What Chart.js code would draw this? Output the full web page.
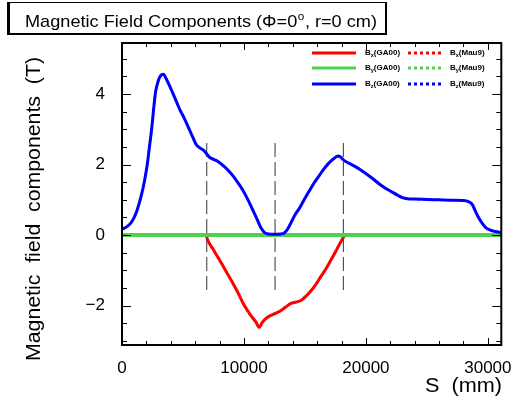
<!DOCTYPE html>
<html><head><meta charset="utf-8">
<script src="https://cdn.jsdelivr.net/npm/chart.js@4/dist/chart.umd.min.js"></script>
<style>html,body{margin:0;padding:0;background:#fff}#c{display:block}</style>
</head><body>
<canvas id="c" width="517" height="402"></canvas>
<script>
// ---- data ----
const sBz = [0,400,700,1000,1250,1600,1850,2050,2250,2450,2600,2750,2950,3150,3400,3600,3950,4350,4750,5100,5450,5800,6100,6400,6700,6950,7200,7500,7900,8300,8700,9100,9500,9900,10300,10700,11100,11400,11700,12000,12500,13000,13300,13600,13900,14200,14530,14900,15300,15700,16100,16500,16900,17300,17700,17900,18200,18600,19100,19600,20100,20600,21100,21600,22100,22600,23000,23400,24000,25000,26000,27000,28000,28400,28700,28950,29200,29500,29800,30200,30600,31100];
const bzGA00 = [0.16,0.24,0.33,0.50,0.72,1.15,1.55,1.95,2.50,3.07,3.60,4.05,4.35,4.52,4.56,4.45,4.20,3.88,3.55,3.32,3.05,2.78,2.56,2.47,2.40,2.30,2.20,2.15,2.08,1.97,1.84,1.68,1.49,1.28,1.02,0.73,0.43,0.20,0.07,0.03,0.02,0.03,0.06,0.18,0.38,0.58,0.75,0.98,1.22,1.45,1.65,1.85,2.02,2.15,2.24,2.22,2.12,2.04,1.95,1.84,1.72,1.59,1.45,1.33,1.23,1.13,1.06,1.03,1.02,1.01,1.00,0.99,0.98,0.95,0.88,0.70,0.52,0.35,0.22,0.14,0.10,0.07];
const sBx = [0,6900,7000,7500,8000,8500,9000,9500,10000,10500,11000,11250,11500,11900,12400,12900,13400,13850,14300,14700,15100,15500,15900,16300,16700,17100,17500,17900,18200,18350,31100];
const bxGA00 = [0,0,-0.12,-0.42,-0.71,-1.01,-1.31,-1.63,-1.98,-2.25,-2.48,-2.62,-2.48,-2.34,-2.25,-2.17,-2.05,-1.94,-1.90,-1.85,-1.73,-1.58,-1.40,-1.18,-0.97,-0.73,-0.48,-0.22,-0.04,0,0];
const sBy = [0,31100];
const byGA00 = [0,0];
// Mau9 curves coincide with GA00 in the picture
const bxMau9 = bxGA00, byMau9 = byGA00, bzMau9 = bzGA00;
const markerS = [6950,12550,18150];
const markerRange = [-1.56,2.72];
const xTicks = [0,10000,20000,30000];
const yTicks = [-2,0,2,4];
const legendRows = [['x','GA00','Mau9'],['y','GA00','Mau9'],['z','GA00','Mau9']];
const titleMain = 'Magnetic Field Components (\u03A6=0';
const titleSup = 'o';
const titleEnd = ', r=0 cm)';
const xTitle = 'S  (mm)';
const yTitle = 'Magnetic  field  components  (T)';

const FONT = '"Liberation Sans", Arial, Helvetica, sans-serif';
const RED = '#ff0000', GREEN = '#50d050', BLUE = '#0000ff';
const pts = (s, v) => s.map((x, i) => ({x, y: v[i]}));

const datasets = [
  {label:'Bz(GA00)', data: pts(sBz,bzGA00), borderColor: BLUE, order: 0},
  {label:'By(GA00)', data: pts(sBy,byGA00), borderColor: GREEN, borderWidth: 4, order: 1},
  {label:'Bx(GA00)', data: pts(sBx,bxGA00), borderColor: RED, order: 2},
  {label:'Bz(Mau9)', data: pts(sBz,bzMau9), borderColor: BLUE, borderWidth: 2, borderDash:[3,3], order: 3},
  {label:'By(Mau9)', data: pts(sBy,byMau9), borderColor: GREEN, borderWidth: 2, borderDash:[3,3], order: 4},
  {label:'Bx(Mau9)', data: pts(sBx,bxMau9), borderColor: RED, borderWidth: 2, borderDash:[3,3], order: 5},
].map(d => Object.assign({borderWidth: 3, pointRadius: 0, fill: false, cubicInterpolationMode: 'monotone'}, d));

markerS.forEach((s, i) => datasets.push({
  label: 'marker' + i, data: [{x: s, y: markerRange[0]}, {x: s, y: markerRange[1]}],
  borderColor: '#333', borderWidth: 1, borderDash: [14,5], pointRadius: 0, fill: false, order: 6
}));

function fitText(ctx, text, x, y, width, align) {
  const w = ctx.measureText(text).width;
  const k = width / w;
  ctx.save();
  ctx.translate(x, y); ctx.scale(k, 1);
  ctx.textAlign = align;
  ctx.fillText(text, 0, 0);
  ctx.restore();
}

const rootStyle = {
  id: 'rootStyle',
  afterDraw(chart) {
    const ctx = chart.ctx, a = chart.chartArea;
    const xs = chart.scales.x, ys = chart.scales.y;
    ctx.save();
    // frame
    ctx.strokeStyle = '#000'; ctx.lineWidth = 2;
    ctx.strokeRect(a.left, a.top, a.right - a.left, a.bottom - a.top);
    ctx.lineWidth = 1;
    ctx.beginPath();
    for (let v = 0; v <= xs.max; v += 2000) {
      const px = Math.round(xs.getPixelForValue(v)) + 0.5;
      const len = (v % 10000 === 0) ? 7 : 4;
      ctx.moveTo(px, a.bottom); ctx.lineTo(px, a.bottom - len);
      ctx.moveTo(px, a.top); ctx.lineTo(px, a.top + len);
    }
    for (let v = -3; v <= ys.max; v += 0.5) {
      const py = Math.round(ys.getPixelForValue(v)) + 0.5;
      const len = (Math.abs(v % 2) < 1e-9) ? 9 : 5;
      ctx.moveTo(a.left, py); ctx.lineTo(a.left + len, py);
      ctx.moveTo(a.right, py); ctx.lineTo(a.right - len, py);
    }
    ctx.stroke();

    // axis titles
    ctx.fillStyle = '#000';
    ctx.font = '20px ' + FONT;
    ctx.textBaseline = 'alphabetic';
    fitText(ctx, xTitle, 502, 392, 77, 'right');
    ctx.save();
    ctx.translate(40, 57); ctx.rotate(-Math.PI / 2);
    fitText(ctx, yTitle, 0, 0, 304, 'right');
    ctx.restore();

    // title box
    ctx.fillStyle = '#000'; ctx.fillRect(7, 2, 380, 33);
    ctx.fillStyle = '#fff'; ctx.fillRect(10, 3, 375, 30);
    ctx.fillStyle = '#000'; ctx.textAlign = 'left';
    ctx.font = '17px ' + FONT;
    const w1 = ctx.measureText(titleMain).width;
    ctx.font = '11px ' + FONT;
    const w2 = ctx.measureText(titleSup).width;
    ctx.font = '17px ' + FONT;
    const w3 = ctx.measureText(titleEnd).width;
    const k = 352 / (w1 + w2 + w3 + 1);
    ctx.save();
    ctx.translate(25, 27); ctx.scale(k, 1);
    ctx.fillText(titleMain, 0, 0);
    ctx.font = '11px ' + FONT; ctx.fillText(titleSup, w1 + 0.5, -7);
    ctx.font = '17px ' + FONT; ctx.fillText(titleEnd, w1 + w2 + 1, 0);
    ctx.restore();

    // legend
    const colors = [RED, GREEN, BLUE];
    const rowsY = [53, 68, 84];
    legendRows.forEach((r, i) => {
      const y = rowsY[i];
      ctx.strokeStyle = colors[i]; ctx.lineWidth = 3;
      ctx.setLineDash([]);
      ctx.beginPath(); ctx.moveTo(312, y); ctx.lineTo(356, y); ctx.stroke();
      ctx.setLineDash([3, 3]);
      ctx.beginPath(); ctx.moveTo(408, y); ctx.lineTo(441, y); ctx.stroke();
      ctx.setLineDash([]);
      [[365, r[1]], [450, r[2]]].forEach(([x, src]) => {
        ctx.fillStyle = '#000'; ctx.textBaseline = 'middle'; ctx.textAlign = 'left';
        ctx.font = 'bold 8px ' + FONT;
        ctx.fillText('B', x, y);
        const bw = ctx.measureText('B').width;
        ctx.font = 'bold 5.5px ' + FONT;
        ctx.fillText(r[0], x + bw, y + 2.5);
        const sw = ctx.measureText(r[0]).width;
        ctx.font = 'bold 8px ' + FONT;
        ctx.fillText('(' + src + ')', x + bw + sw, y);
      });
    });
    ctx.restore();
  }
};

new Chart(document.getElementById('c'), {
  type: 'line',
  data: {datasets},
  options: {
    responsive: false, animation: false, events: [],
    layout: {padding: {left: 0, right: 14, top: 43, bottom: 0}},
    plugins: {legend: {display: false}, tooltip: {enabled: false}},
    scales: {
      x: {
        type: 'linear', min: 0, max: 31100,
        grid: {display: false}, border: {display: false},
        afterBuildTicks: s => { s.ticks = xTicks.map(v => ({value: v})); },
        afterFit: s => { s.height = 57; },
        ticks: {color: '#000', font: {family: FONT, size: 17}, padding: 5, maxRotation: 0,
                callback: v => String(v)}
      },
      y: {
        type: 'linear', min: -3.12, max: 5.45,
        grid: {display: false}, border: {display: false},
        afterBuildTicks: s => { s.ticks = yTicks.map(v => ({value: v})); },
        afterFit: s => { s.width = 122; },
        ticks: {color: '#000', font: {family: FONT, size: 17}, padding: 9,
                callback: v => String(v).replace('-', '\u2212')}
      }
    }
  },
  plugins: [rootStyle]
});
</script>
</body></html>
